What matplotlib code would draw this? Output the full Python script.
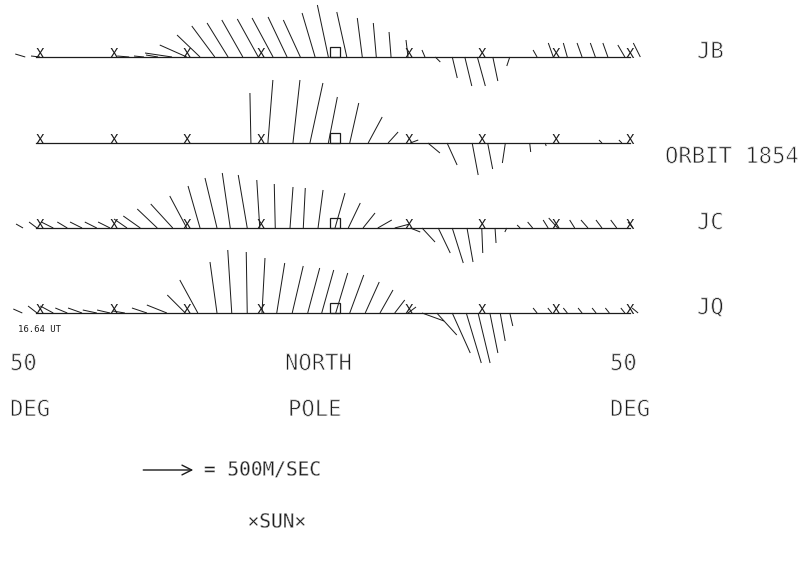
import numpy as np
import matplotlib
matplotlib.use("Agg")
import matplotlib.pyplot as plt
import matplotlib.transforms as mtransforms
import matplotlib.patheffects as pe

# along-track position (deg from the pole, negative = dawn side) and drift (m/s)
jb_pos = [-42.0, -40.0, -38.0, -35.9, -34.0, -32.0, -30.0, -27.9, -25.9, -24.0, -22.1, -20.1,
          -18.3, -16.3, -14.5, -12.5, -10.4, -8.4, -6.5, -4.7, -2.7, -0.9, 1.6, 3.7, 5.6, 7.6,
          9.9, 12.2, 13.6, 15.9, 17.6, 19.3, 21.4, 23.7, 25.1, 27.4, 29.6, 31.5, 33.5, 35.3,
          37.0, 39.3, 41.4]
jb_ve = [-100, -90, -120, -100, -120, -100, -80, -120, -100, -120, -270, -270,
         -230, -230, -210, -210, -210, -210, -190, -170, -130, -110, -100, -50, -30, -20,
         -20, -30, 50, 50, 70, 80, 50, -30, -30, -40, -50, -40, -50, -50,
         -50, -70, -70]
jb_vn = [30, 10, 0, 0, 0, 0, 0, 10, 10, 20, 40, 120,
         220, 310, 340, 370, 380, 390, 400, 370, 440, 520, 450, 390, 340, 250,
         170, 70, -50, -210, -290, -290, -240, -90, 0, 70, 140, 140, 140, 140,
         140, 120, 140]

orbit_pos = [-11.4, -9.1, -5.7, -3.4, -0.9, 2.0, 4.5, 7.2, 10.2, 12.6, 15.2, 18.6, 20.7,
             23.1, 26.4, 28.5, 36.2, 38.9]
orbit_ve = [-10, 50, 70, 130, 90, 90, 140, 100, 80, 120, 100, 60, 50,
            -30, 10, 10, -30, -30]
orbit_vn = [500, 630, 630, 600, 460, 400, 260, 110, 30, -100, -220, -320, -260,
            -200, -90, -30, 30, 30]

jc_pos = [-42.3, -40.4, -38.2, -36.3, -34.3, -32.3, -30.5, -28.2, -26.4, -24.1, -22.0, -20.1,
          -18.3, -16.0, -14.2, -11.9, -10.2, -8.1, -6.1, -4.3, -2.3, 0.0, 1.8, 3.8, 5.8, 8.1,
          10.2, 11.8, 14.0, 15.9, 17.9, 19.9, 21.7, 23.3, 25.1, 26.8, 28.9, 30.2, 32.5, 34.3,
          36.2, 38.2, 40.4]
jc_ve = [-70, -80, -120, -100, -120, -120, -120, -130, -170, -200, -220, -170,
         -120, -120, -80, -90, -30, -10, 30, 20, 50, 100, 120, 120, 140, 150,
         100, 130, 120, 110, 60, 10, 10, -20, -30, -50, -50, -90, -50, -70,
         -60, -60, -50]
jc_vn = [40, 60, 60, 60, 60, 60, 60, 90, 120, 190, 240, 320,
         420, 500, 550, 530, 480, 440, 410, 400, 380, 350, 250, 150, 80, 40,
         -40, -140, -250, -350, -340, -250, -150, -40, 30, 60, 80, 100, 80, 80,
         80, 80, 60]

jq_pos = [-42.4, -40.4, -38.2, -36.3, -34.3, -32.3, -30.5, -28.5, -25.5, -22.8, -20.3, -18.6,
          -16.0, -14.0, -11.9, -9.9, -7.9, -5.8, -3.7, -1.8, 0.1, 2.0, 4.1, 6.1, 8.1, 9.9,
          11.8, 13.8, 15.9, 17.8, 19.4, 21.0, 22.4, 23.7, 27.4, 29.4, 31.5, 33.5, 35.4, 37.2,
          39.3, 41.1]
jq_ve = [-90, -90, -130, -120, -140, -140, -130, -120, -150, -200, -180, -180,
         -70, -40, -10, 30, 80, 110, 120, 120, 120, 140, 140, 130, 100, 80,
         220, 200, 180, 150, 120, 80, 50, 30, -40, -40, -40, -40, -40, -40,
         -40, -60]
jq_vn = [40, 70, 70, 50, 50, 30, 30, 20, 50, 80, 180, 330,
         510, 630, 610, 550, 500, 470, 450, 430, 400, 380, 310, 230, 130, 60,
         -80, -220, -400, -500, -500, -400, -280, -130, 50, 50, 50, 50, 50, 50,
         50, 50]

rows = [(jb_pos, jb_ve, jb_vn, "JB"),
        (orbit_pos, orbit_ve, orbit_vn, ""),
        (jc_pos, jc_ve, jc_vn, "JC"),
        (jq_pos, jq_ve, jq_vn, "JQ")]

marker_pos = [-40, -30, -20, -10, 10, 20, 30, 40]
key_speed = 500  # m/s

W, H = 809, 572
PX_PER_DEG = 7.375
POLE_PX = 335
MS_PER_PX = 10.0
row_y = [57, 143, 228, 313]
ink = "#1c1c1c"
mono = ["DejaVu Sans Mono"]


def thin(w):
    # erode the glyphs a little, the original came off a pen plotter
    return [pe.Normal(), pe.Stroke(linewidth=w, foreground="white")]


fig = plt.figure(figsize=(W / 100, H / 100), dpi=100)
ax = fig.add_axes([0, 0, 1, 1])
ax.set_xlim(-POLE_PX / PX_PER_DEG, (W - POLE_PX) / PX_PER_DEG)
ax.set_ylim(H, 0)
ax.axis("off")


def label(x, y, s, size=16, ha="left", w=0.6):
    fig.text(x / W, 1 - y / H, s, ha=ha, va="center", family=mono,
             fontsize=size, color=ink, path_effects=thin(w) if w else None)


sq_trans = mtransforms.offset_copy(ax.transData, fig=fig, x=0, y=5, units="dots")

for (pos, ve, vn, name), y in zip(rows, row_y):
    pos = np.asarray(pos, float)
    ax.plot([-40.5, 40], [y, y], color=ink, lw=0.9)
    ax.quiver(pos, np.full_like(pos, y), ve, vn, angles="uv", scale_units="dots",
              scale=MS_PER_PX, units="dots", width=1.0, headwidth=0, headlength=0,
              headaxislength=0, pivot="tail", color=ink)
    for m in marker_pos:
        ax.text(m, y + 1, "X", ha="center", va="baseline", family=mono,
                fontsize=10, color=ink)
    ax.plot([0], [y], marker="s", ms=6.5, mfc="none", mec=ink, mew=0.9,
            transform=sq_trans)
    if name:
        label(697, y - 5, name)

label(665, 157, "ORBIT 1854")
label(18, 330, "16.64 UT", size=6.5, w=0)

for txt, x, y in [("50", 10, 364), ("NORTH", 285, 364), ("50", 610, 364),
                  ("DEG", 10, 410), ("POLE", 288, 410), ("DEG", 610, 410)]:
    label(x, y, txt)

# velocity key
fig.canvas.draw()
kx = -26.0
base = ax.transData.transform((kx, 470))
tip = (base[0] + key_speed / MS_PER_PX, base[1])
ax.annotate("", xy=tip, xytext=base, xycoords="figure pixels",
            textcoords="figure pixels",
            arrowprops=dict(arrowstyle="->,head_length=0.7,head_width=0.35",
                            lw=1.0, color=ink, shrinkA=0, shrinkB=0))
label(204, 470, "= 500M/SEC", size=14, w=0.35)
label(277, 522, "\u00d7SUN\u00d7", size=14, ha="center", w=0.35)

fig.savefig("out.png", dpi=100, facecolor="white")
